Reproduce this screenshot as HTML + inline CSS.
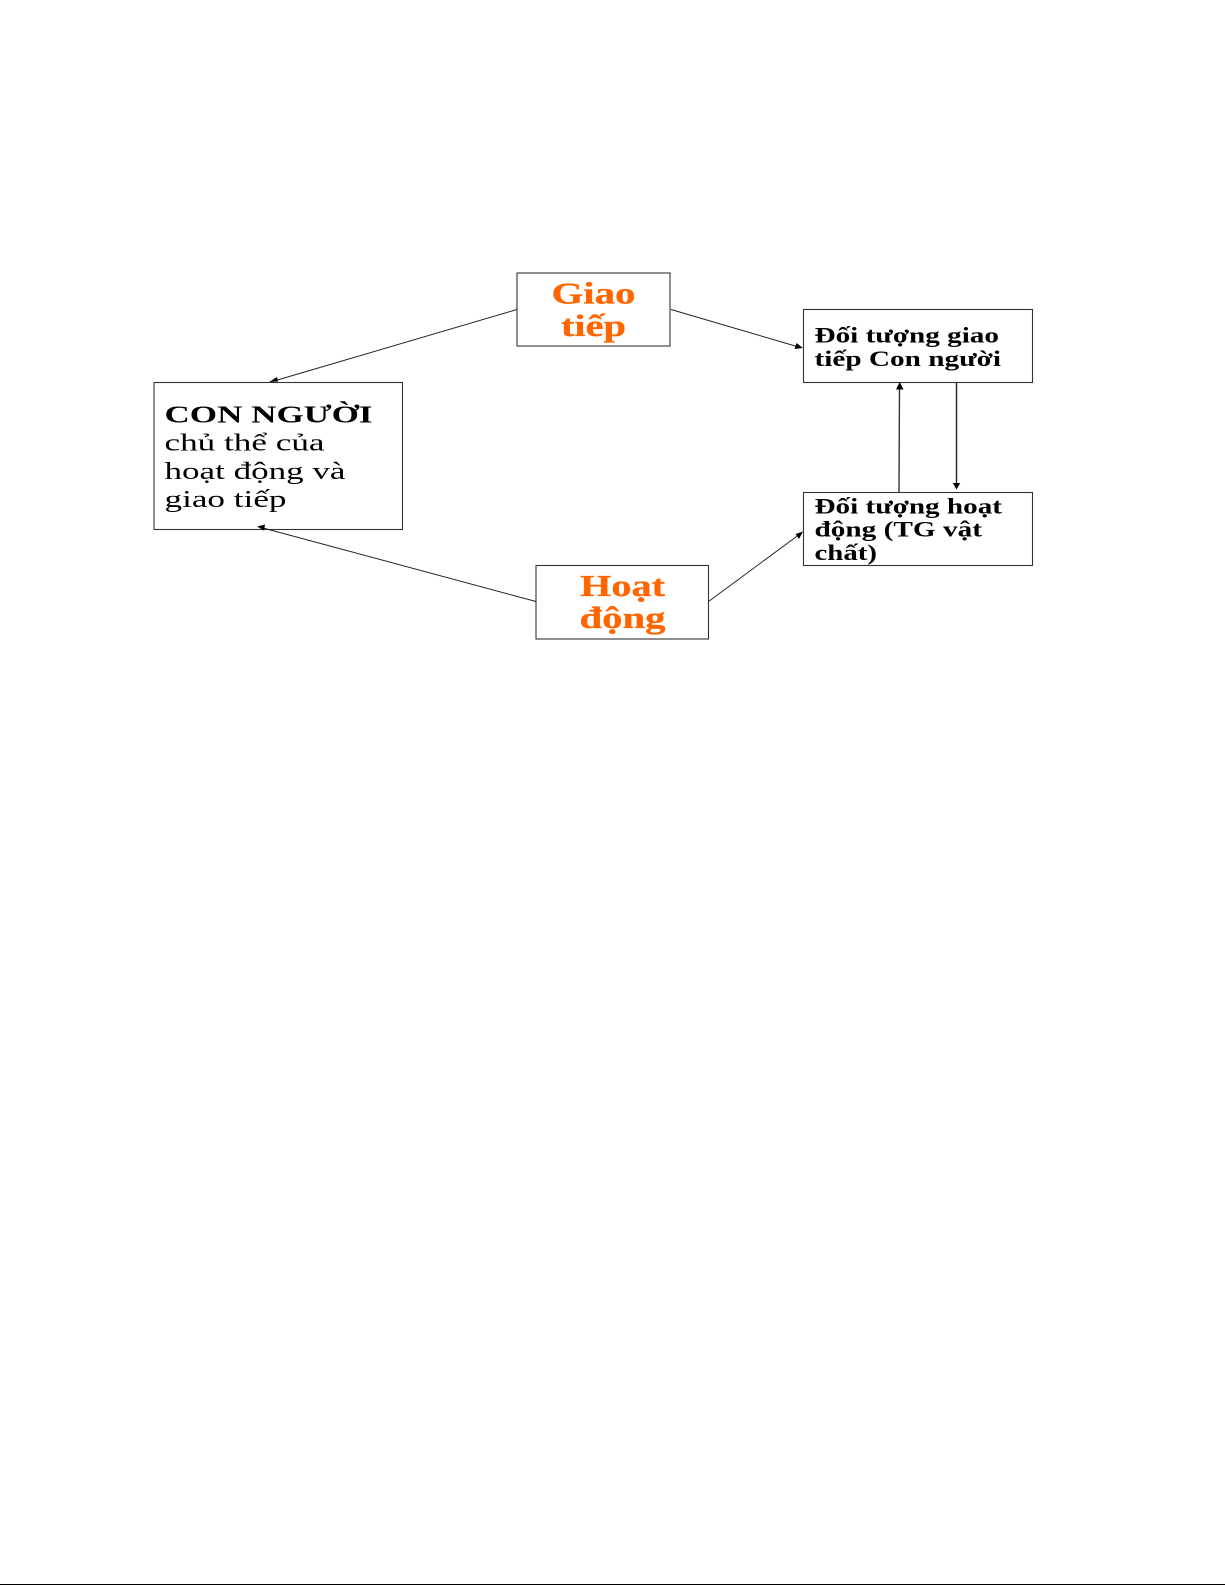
<!DOCTYPE html>
<html>
<head>
<meta charset="utf-8">
<style>
html,body{margin:0;padding:0;background:#fff;width:1225px;height:1585px;overflow:hidden}
svg{display:block;position:absolute;left:0;top:0}
text{font-family:"Liberation Serif","DejaVu Serif",serif;fill:#000}
.b{font-weight:bold}
.o{fill:#ff6600;font-weight:bold;font-size:31px;stroke:#ff6600;stroke-width:0.3}
.k{font-size:24px}
.s{font-size:22px;font-weight:bold}
</style>
</head>
<body>
<svg width="1225" height="1585" viewBox="0 0 1225 1585" xmlns="http://www.w3.org/2000/svg">
<defs>
<filter id="soft" x="-5%" y="-5%" width="110%" height="110%"><feGaussianBlur stdDeviation="0.35"/></filter>
</defs>
<g fill="#fff" stroke="#333" stroke-width="1.1">
<rect x="517" y="273" width="153" height="73"/>
<rect x="154" y="382.5" width="248.5" height="147"/>
<rect x="536" y="565.5" width="172.5" height="73.5"/>
<rect x="803.5" y="309.5" width="229" height="73"/>
<rect x="803.5" y="492.5" width="229" height="73"/>
</g>
<g stroke="#222" stroke-width="1" fill="none">
<line x1="517" y1="309.5" x2="274" y2="381"/>
<line x1="671" y1="309.5" x2="797" y2="346.5"/>
<line x1="536" y1="601.5" x2="263" y2="528"/>
<line x1="708.5" y1="601.5" x2="798" y2="535.5"/>
<line x1="899" y1="492" x2="899.5" y2="388" stroke-width="1.4" stroke="#333"/>
<line x1="956.5" y1="382.5" x2="956.5" y2="484" stroke-width="1.4"/>
</g>
<g fill="#000">
<polygon points="269,382 277,377 278,381.5"/>
<polygon points="803,348 794.5,349 796.5,343"/>
<polygon points="257,526.5 265,524.5 264,530.5"/>
<polygon points="803,531.5 799,539 795.5,534"/>
<polygon points="899.7,382 903.5,389.5 896,389.5"/>
<polygon points="956.5,489.5 952.8,483 960.2,483"/>
</g>
<g filter="url(#soft)">
<text class="o" x="551.5" y="303.5" textLength="84" lengthAdjust="spacingAndGlyphs">Giao</text>
<text class="o" x="561" y="336" textLength="65" lengthAdjust="spacingAndGlyphs">tiếp</text>
<text class="o" x="580" y="596" textLength="85" lengthAdjust="spacingAndGlyphs">Hoạt</text>
<text class="o" x="579.5" y="628" textLength="86" lengthAdjust="spacingAndGlyphs">động</text>
<text class="k b" x="164.5" y="422.5" textLength="208" lengthAdjust="spacingAndGlyphs">CON NGƯỜI</text>
<text class="k" x="164.5" y="450.5" textLength="160" lengthAdjust="spacingAndGlyphs">chủ thể của</text>
<text class="k" x="164.5" y="479" textLength="181" lengthAdjust="spacingAndGlyphs">hoạt động và</text>
<text class="k" x="164.5" y="507" textLength="122" lengthAdjust="spacingAndGlyphs">giao tiếp</text>
<text class="s" x="814.5" y="342.5" textLength="184.5" lengthAdjust="spacingAndGlyphs">Đối tượng giao</text>
<text class="s" x="814.5" y="366" textLength="186.5" lengthAdjust="spacingAndGlyphs">tiếp Con người</text>
<text class="s" x="814.5" y="513.5" textLength="187.5" lengthAdjust="spacingAndGlyphs">Đối tượng hoạt</text>
<text class="s" x="814.5" y="536.5" textLength="167.5" lengthAdjust="spacingAndGlyphs">động (TG vật</text>
<text class="s" x="814.5" y="560" textLength="62.5" lengthAdjust="spacingAndGlyphs">chất)</text>
</g>
<rect x="0" y="1584" width="1225" height="1" fill="#000"/>
</svg>
</body>
</html>
